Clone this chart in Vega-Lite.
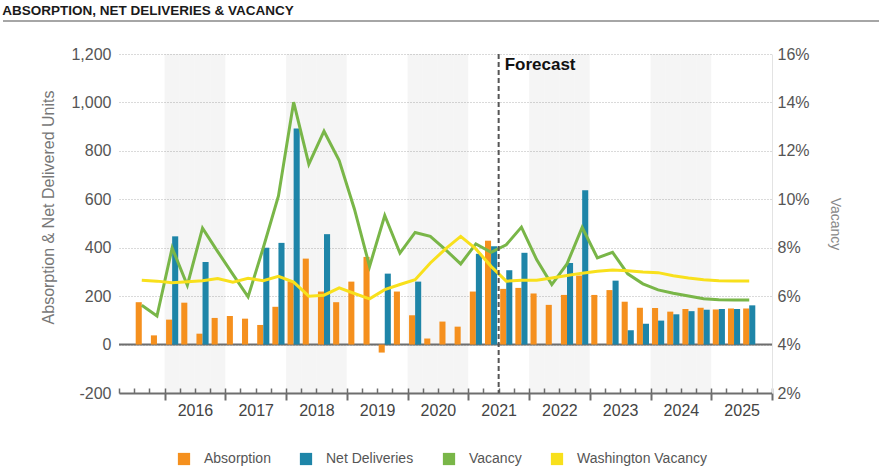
{
  "$schema": "https://vega.github.io/schema/vega-lite/v6.json",
  "padding": {"left": 2, "top": 3, "right": 0, "bottom": 0},
  "title": {"text": "ABSORPTION, NET DELIVERIES & VACANCY", "anchor": "start", "fontSize": 13.5, "fontWeight": "bold", "color": "#1a1a1a", "font": "Liberation Sans", "offset": 3},
  "spacing": 33,
  "bounds": "flush",
  "config": {"view": {"stroke": null}, "font": "Liberation Sans"},
  "vconcat": [
    {
      "width": 879, "height": 1,
      "data": {"values": [{}]},
      "mark": {"type": "rule", "color": "#888", "strokeWidth": 1.5},
      "encoding": {"y": {"datum": 0, "type": "quantitative", "scale": {"domain": [0, 1]}, "axis": null}}
    },
    {
      "hconcat": [
        {
          "width": 96, "height": 339,
          "data": {"values": [{}]},
          "mark": {"type": "point", "opacity": 0},
          "encoding": {}
        },
        {
          "width": 653, "height": 339,
          "data": {"values": [
            {"q": "2015 Q3", "Absorption": 175, "Vacancy": 5.62, "Washington Vacancy": 6.66},
            {"q": "2015 Q4", "Absorption": 38, "Vacancy": 5.18, "Washington Vacancy": 6.62},
            {"q": "2016 Q1", "Absorption": 103, "Net Deliveries": 447, "Vacancy": 7.99, "Washington Vacancy": 6.55},
            {"q": "2016 Q2", "Absorption": 173, "Vacancy": 6.45, "Washington Vacancy": 6.59},
            {"q": "2016 Q3", "Absorption": 45, "Net Deliveries": 341, "Vacancy": 8.81, "Washington Vacancy": 6.64},
            {"q": "2016 Q4", "Absorption": 110, "Vacancy": 7.84, "Washington Vacancy": 6.73},
            {"q": "2017 Q1", "Absorption": 118, "Vacancy": 6.9, "Washington Vacancy": 6.58},
            {"q": "2017 Q2", "Absorption": 107, "Vacancy": 5.97, "Washington Vacancy": 6.74},
            {"q": "2017 Q3", "Absorption": 81, "Net Deliveries": 400, "Vacancy": 8.0, "Washington Vacancy": 6.64},
            {"q": "2017 Q4", "Absorption": 156, "Net Deliveries": 420, "Vacancy": 10.14, "Washington Vacancy": 6.82},
            {"q": "2018 Q1", "Absorption": 261, "Net Deliveries": 892, "Vacancy": 14.01, "Washington Vacancy": 6.58},
            {"q": "2018 Q2", "Absorption": 355, "Vacancy": 11.45, "Washington Vacancy": 6.0},
            {"q": "2018 Q3", "Absorption": 219, "Net Deliveries": 456, "Vacancy": 12.81, "Washington Vacancy": 6.04},
            {"q": "2018 Q4", "Absorption": 175, "Vacancy": 11.6, "Washington Vacancy": 6.34},
            {"q": "2019 Q1", "Absorption": 260, "Vacancy": 9.6, "Washington Vacancy": 6.11},
            {"q": "2019 Q2", "Absorption": 362, "Vacancy": 7.23, "Washington Vacancy": 5.89},
            {"q": "2019 Q3", "Absorption": -33, "Net Deliveries": 293, "Vacancy": 9.33, "Washington Vacancy": 6.27},
            {"q": "2019 Q4", "Absorption": 219, "Vacancy": 7.78, "Washington Vacancy": 6.48},
            {"q": "2020 Q1", "Absorption": 121, "Net Deliveries": 260, "Vacancy": 8.63, "Washington Vacancy": 6.68},
            {"q": "2020 Q2", "Absorption": 25, "Vacancy": 8.47, "Washington Vacancy": 7.37},
            {"q": "2020 Q3", "Absorption": 95, "Vacancy": 7.92, "Washington Vacancy": 7.95},
            {"q": "2020 Q4", "Absorption": 74, "Vacancy": 7.33, "Washington Vacancy": 8.47},
            {"q": "2021 Q1", "Absorption": 219, "Net Deliveries": 375, "Vacancy": 8.16, "Washington Vacancy": 7.95},
            {"q": "2021 Q2", "Absorption": 429, "Net Deliveries": 406, "Vacancy": 7.81, "Washington Vacancy": 7.23},
            {"q": "2021 Q3", "Absorption": 230, "Net Deliveries": 307, "Vacancy": 8.12, "Washington Vacancy": 6.62},
            {"q": "2021 Q4", "Absorption": 234, "Net Deliveries": 379, "Vacancy": 8.85, "Washington Vacancy": 6.66},
            {"q": "2022 Q1", "Absorption": 211, "Vacancy": 7.51, "Washington Vacancy": 6.66},
            {"q": "2022 Q2", "Absorption": 164, "Vacancy": 6.48, "Washington Vacancy": 6.75},
            {"q": "2022 Q3", "Absorption": 205, "Net Deliveries": 337, "Vacancy": 7.33, "Washington Vacancy": 6.85},
            {"q": "2022 Q4", "Absorption": 285, "Net Deliveries": 637, "Vacancy": 8.84, "Washington Vacancy": 6.95},
            {"q": "2023 Q1", "Absorption": 205, "Vacancy": 7.58, "Washington Vacancy": 7.03},
            {"q": "2023 Q2", "Absorption": 225, "Net Deliveries": 264, "Vacancy": 7.81, "Washington Vacancy": 7.08},
            {"q": "2023 Q3", "Absorption": 177, "Net Deliveries": 59, "Vacancy": 6.92, "Washington Vacancy": 7.05},
            {"q": "2023 Q4", "Absorption": 152, "Net Deliveries": 86, "Vacancy": 6.51, "Washington Vacancy": 7.0},
            {"q": "2024 Q1", "Absorption": 151, "Net Deliveries": 99, "Vacancy": 6.26, "Washington Vacancy": 6.97},
            {"q": "2024 Q2", "Absorption": 136, "Net Deliveries": 125, "Vacancy": 6.12, "Washington Vacancy": 6.84},
            {"q": "2024 Q3", "Absorption": 147, "Net Deliveries": 138, "Vacancy": 6.01, "Washington Vacancy": 6.75},
            {"q": "2024 Q4", "Absorption": 152, "Net Deliveries": 144, "Vacancy": 5.89, "Washington Vacancy": 6.68},
            {"q": "2025 Q1", "Absorption": 145, "Net Deliveries": 147, "Vacancy": 5.85, "Washington Vacancy": 6.64},
            {"q": "2025 Q2", "Absorption": 149, "Net Deliveries": 147, "Vacancy": 5.84, "Washington Vacancy": 6.63},
            {"q": "2025 Q3", "Absorption": 149, "Net Deliveries": 162, "Vacancy": 5.84, "Washington Vacancy": 6.63}
          ]},
          "resolve": {"scale": {"y": "independent"}, "axis": {"x": "independent"}},
          "layer": [
            {
              "transform": [{"filter": "test(/^(2016|2018|2020|2022|2024)/, datum.q)"}],
              "mark": {"type": "rect", "fill": "#000", "opacity": 0.04},
              "encoding": {
                "x": {"field": "q", "type": "ordinal", "axis": null,
                  "scale": {"domain": ["2015 Q2","2015 Q3","2015 Q4","2016 Q1","2016 Q2","2016 Q3","2016 Q4","2017 Q1","2017 Q2","2017 Q3","2017 Q4","2018 Q1","2018 Q2","2018 Q3","2018 Q4","2019 Q1","2019 Q2","2019 Q3","2019 Q4","2020 Q1","2020 Q2","2020 Q3","2020 Q4","2021 Q1","2021 Q2","2021 Q3","2021 Q4","2022 Q1","2022 Q2","2022 Q3","2022 Q4","2023 Q1","2023 Q2","2023 Q3","2023 Q4","2024 Q1","2024 Q2","2024 Q3","2024 Q4","2025 Q1","2025 Q2","2025 Q3","2025 Q4"], "paddingInner": 0, "paddingOuter": 0}}
              }
            },
            {
              "layer": [
                {
                  "data": {"values": [{}]},
                  "mark": {"type": "rule", "color": "#6e6e6e", "strokeWidth": 2},
                  "encoding": {"y": {"datum": 0, "type": "quantitative"}}
                },
                {
                  "transform": [
                    {"fold": ["Absorption", "Net Deliveries"], "as": ["key", "value"]},
                    {"filter": "isValid(datum.value)"}
                  ],
                  "mark": {"type": "bar"},
                  "encoding": {
                    "x": {"field": "q", "type": "ordinal",
                      "axis": {"orient": "bottom", "title": null, "domainColor": "#6e6e6e", "domainWidth": 2, "tickColor": "#6e6e6e", "tickWidth": 1.5, "tickSize": -5, "tickBand": "extent", "labelAngle": 0, "labelFontSize": 16, "labelColor": "#444", "labelPadding": 14, "labelOffset": 7.6, "labelExpr": "test(/Q2/, datum.value) && datum.value != '2015 Q2' ? slice(datum.value, 0, 4) : ''", "grid": false}},
                    "xOffset": {"field": "key", "type": "nominal", "scale": {"domain": ["Absorption", "Net Deliveries"], "paddingOuter": 0.25, "paddingInner": 0}},
                    "y": {"field": "value", "type": "quantitative",
                      "scale": {"domain": [-200, 1200], "nice": false},
                      "axis": {"orient": "left", "values": [-200, 0, 200, 400, 600, 800, 1000, 1200], "labelExpr": "(datum.value < 0 ? '-' : '') + format(abs(datum.value), ',d')", "title": "Absorption & Net Delivered Units", "titleColor": "#777", "titleFontSize": 16, "titleFontWeight": "normal", "titlePadding": 14, "titleY": 153, "labelFontSize": 16, "labelColor": "#555", "labelPadding": 8, "domain": false, "ticks": false, "grid": true, "gridDash": [1, 2], "gridColor": "#b5b5b5", "gridWidth": 1}},
                    "color": {"field": "key", "type": "nominal",
                      "scale": {"domain": ["Absorption", "Net Deliveries", "Vacancy", "Washington Vacancy"], "range": ["#F5901E", "#1E85A8", "#79B648", "#F8E01C"]},
                      "legend": {"orient": "none", "legendX": 174, "legendY": 432, "direction": "horizontal", "gridAlign": "none", "title": null, "symbolType": "square", "symbolSize": 150, "symbolStrokeWidth": 0, "labelFontSize": 14, "labelColor": "#555", "labelOffset": 13, "columnPadding": 28}}
                  }
                },
                {
                  "data": {"values": [{}]},
                  "mark": {"type": "text", "text": "Forecast", "align": "left", "baseline": "top", "dx": 6, "dy": 3, "fontSize": 17, "fontWeight": "bold", "color": "#111"},
                  "encoding": {
                    "x": {"datum": "2021 Q3", "type": "ordinal", "bandPosition": 0},
                    "y": {"datum": 1200, "type": "quantitative"}
                  }
                }
              ]
            },
            {
              "transform": [{"fold": ["Vacancy", "Washington Vacancy"], "as": ["key", "p"]}],
              "mark": {"type": "line", "strokeWidth": 3},
              "encoding": {
                "x": {"field": "q", "type": "ordinal", "axis": null},
                "y": {"field": "p", "type": "quantitative", "scale": {"domain": [2, 16], "nice": false},
                  "axis": {"orient": "right", "values": [2, 4, 6, 8, 10, 12, 14, 16], "labelExpr": "datum.value + '%'", "title": "Vacancy", "titleColor": "#888", "titleFontSize": 14, "titleFontWeight": "normal", "titlePadding": 18, "labelFontSize": 16, "labelColor": "#555", "labelPadding": 5, "domain": true, "domainColor": "#e3e3e3", "domainWidth": 1, "ticks": false, "grid": false}},
                "color": {"field": "key", "type": "nominal"}
              }
            },
            {
              "data": {"values": [{}]},
              "mark": {"type": "rule", "strokeDash": [5, 3], "color": "#555", "strokeWidth": 2},
              "encoding": {
                "x": {"datum": "2021 Q3", "type": "ordinal", "bandPosition": 0,
                  "axis": {"orient": "bottom", "title": null, "domain": false, "labels": false, "grid": false, "tickBand": "extent", "tickColor": "#6e6e6e", "tickWidth": 2, "tickSize": 7, "tickOpacity": {"condition": {"test": "test(/Q4/, '' + datum.value)", "value": 1}, "value": 0}}}
              }
            }
          ]
        }
      ],
      "spacing": 20,
      "bounds": "flush"
    }
  ]
}
